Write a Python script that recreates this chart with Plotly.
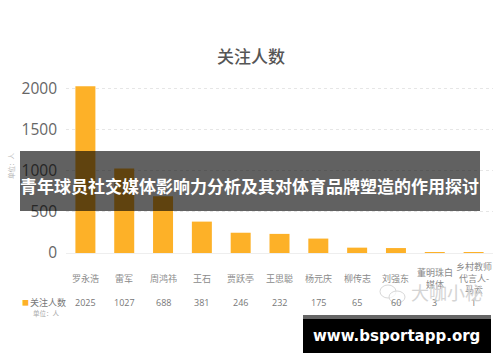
import plotly.graph_objects as go

W, H = 500, 362
L, R, T, B = 66, 7, 80, 109

categories = ["罗永浩", "雷军", "周鸿祎", "王石", "贾跃亭", "王思聪", "杨元庆", "柳传志", "刘强东",
              "董明珠白<br>媒体", "乡村教师<br>代言人-<br>马云"]
values = [2025, 1027, 688, 381, 246, 232, 175, 65, 60, 3, 1]
value_labels = ["2025", "1027", "688", "381", "246", "232", "175", "65", "60", "3", "1"]
y_ticks = [0, 500, 1000, 1500, 2000]
chart_title = "关注人数"
series_name = "关注人数"
unit_label = "单位：人"
banner_text = "青年球员社交媒体影响力分析及其对体育品牌塑造的作用探讨"
site_text = "www.bsportapp.org"
watermark_text = "大咖小秘"

CJK = "Noto Sans CJK SC"
BAR = "#fdb128"


def px(x):
    return (x - L) / (W - L - R)


def py(y):
    return (H - B - y) / (H - T - B)


positions = list(range(len(categories)))
fig = go.Figure(go.Bar(x=positions, y=values, width=0.515, marker=dict(color=BAR, line=dict(width=0)),
                       showlegend=False, hoverinfo="skip"))

ann = []


def text(s, x, y, size, color, xanchor="center", weight=None, family=CJK, angle=0):
    ann.append(dict(text=s, x=px(x), y=py(y), xref="paper", yref="paper", xanchor=xanchor, yanchor="middle",
                    showarrow=False, textangle=angle, align="center",
                    font=dict(family=family, size=size, color=color, weight=weight),
                    borderpad=0, borderwidth=0))


text(chart_title, 251, 55, 17, "#555555", weight=500)
text(unit_label, 11, 166, 6.5, "#b5b5b5", angle=-90)
text("■", 25.5, 302, 7, BAR)
text(series_name, 30, 302, 9, "#777777", xanchor="left")
text(unit_label, 46.5, 313, 6.5, "#aaaaaa")

step = (W - L - R) / len(categories)
for i, (cat, val) in enumerate(zip(categories, value_labels)):
    cx = L + step * (i + 0.5)
    text(cat, cx, 278, 9, "#8a8a8a")
    text(val, cx, 302, 9, "#777777", family="Open Sans")

text(watermark_text, 447, 292, 18, "#d4d4d4")
text(banner_text, 249.5, 185, 17, "#ffffff", weight=700)
text(site_text, 396, 336, 15, "#ffffff", weight=700, family="DejaVu Sans")


def rect(x0, y0, x1, y1, fill):
    return dict(type="rect", xref="paper", yref="paper", x0=px(x0), x1=px(x1), y0=py(y0), y1=py(y1),
                fillcolor=fill, line=dict(width=0), layer="above")


def bubble(x0, y0, x1, y1):
    return dict(type="circle", xref="paper", yref="paper", x0=px(x0), x1=px(x1), y0=py(y0), y1=py(y1),
                fillcolor="rgba(255,255,255,0.75)", line=dict(width=1, color="#d8d8d8"), layer="above")


shapes = [
    bubble(380, 285, 396, 298),
    bubble(389, 291, 405, 303),
    rect(20, 151, 480, 211, "rgba(0,0,0,0.62)"),
    rect(303, 315, 491, 353, "#000000"),
    rect(303, 315, 491, 319, "#666666"),
]

fig.update_layout(
    width=W, height=H, autosize=False,
    margin=dict(l=L, r=R, t=T, b=B, pad=0),
    paper_bgcolor="white", plot_bgcolor="white",
    annotations=ann, shapes=shapes,
    xaxis=dict(range=[-0.5, len(categories) - 0.5], showticklabels=False, ticks="", showgrid=False,
               zeroline=False, fixedrange=True),
    yaxis=dict(range=[0, 2100], tickvals=y_ticks, ticks="", ticklen=0, ticklabelstandoff=8,
               tickfont=dict(family="Open Sans", size=15.5, color="#666666"),
               showgrid=True, gridcolor="#e6e6e6", griddash="dot", gridwidth=1,
               zeroline=True, zerolinecolor="#eeeeee", zerolinewidth=1, fixedrange=True),
    bargap=0.485,
)
fig.write_html("out.html", config=dict(displayModeBar=False),
               post_script="document.body.style.margin='0';document.documentElement.style.overflow='hidden';")
